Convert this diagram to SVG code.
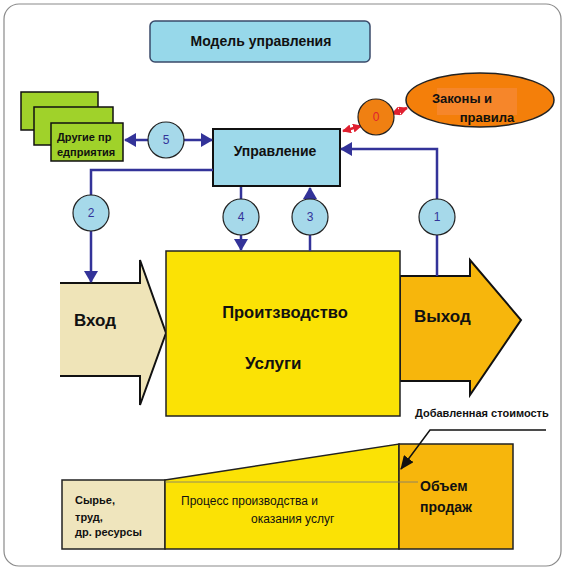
<svg xmlns="http://www.w3.org/2000/svg" width="567" height="571" viewBox="0 0 567 571">
<style>
.t{font-family:"Liberation Sans",Arial,sans-serif;font-weight:bold;fill:#111}
.n{font-family:"Liberation Sans",Arial,sans-serif;font-size:12px;fill:#333399;text-anchor:middle}
.c{fill:#a6d9ea;stroke:#222;stroke-width:1.2}
.con{fill:none;stroke:#333399;stroke-width:2.5}
.g{fill:#a0d22a;stroke:#111;stroke-width:1.5}
</style>
<defs>
<marker id="ah" markerUnits="userSpaceOnUse" markerWidth="12" markerHeight="14" refX="11" refY="7" orient="auto-start-reverse" viewBox="0 0 12 14">
<path d="M0,0 L12,7 L0,14 z" fill="#333399"/>
</marker>
<marker id="rh" markerUnits="userSpaceOnUse" markerWidth="9" markerHeight="9" refX="8" refY="4.5" orient="auto-start-reverse" viewBox="0 0 9 9">
<path d="M0,0 L9,4.5 L0,9 z" fill="#e02030"/>
</marker>
<marker id="bh" markerUnits="userSpaceOnUse" markerWidth="14" markerHeight="12" refX="13" refY="6" orient="auto" viewBox="0 0 14 12">
<path d="M0,0 L14,6 L0,12 z" fill="#111"/>
</marker>
</defs>
<rect x="0" y="0" width="567" height="571" fill="#fff"/>
<rect x="4" y="4" width="557" height="562" rx="15" fill="#fff" stroke="#8a8a8a" stroke-width="1.2"/>

<g id="title">
<rect x="150" y="21" width="220" height="41" rx="5" fill="#97d8ea" stroke="#3a4a6a" stroke-width="1.5"/>
<text class="t" x="261" y="46" font-size="14" text-anchor="middle">Модель управления</text>
</g>

<g id="vhod">
<polygon points="60,283 140,283 140,260 166,333 140,405 140,376 60,376" fill="#efe4b8"/>
<polyline points="60,283 140,283 140,260 166,333 140,405 140,376 60,376" fill="none" stroke="#111" stroke-width="2"/>
<text class="t" x="74" y="326" font-size="17">Вход</text>
</g>

<g id="vyhod">
<polygon points="400,276 470,276 470,260 521,320 470,395 470,381 400,381" fill="#f7b60c" stroke="#111" stroke-width="2"/>
<text class="t" x="414" y="322" font-size="17">Выход</text>
</g>

<g id="production">
<rect x="166" y="251" width="234" height="165" fill="#fbe205" stroke="#222" stroke-width="1.5"/>
<text class="t" x="285" y="318" font-size="16.5" text-anchor="middle">Проитзводство</text>
<text class="t" x="245" y="369" font-size="17">Услуги</text>
</g>

<g id="others">
<rect class="g" x="21" y="92" width="77" height="38"/>
<rect class="g" x="34" y="107" width="79" height="38"/>
<rect class="g" x="51" y="123" width="72" height="38"/>
<text class="t" x="57" y="141" font-size="11">Другие пр</text>
<text class="t" x="57" y="156" font-size="11">едприятия</text>
</g>

<g id="upravlenie">
<rect x="213" y="129" width="127" height="57" fill="#9dd9ea" stroke="#111" stroke-width="2"/>
<text class="t" x="275" y="156" font-size="14" text-anchor="middle">Управление</text>
</g>

<g id="zakony">
<ellipse cx="480" cy="100" rx="74" ry="27" fill="#f47f0a" stroke="#222" stroke-width="1.5"/>
<rect x="437" y="88" width="80" height="27" fill="#f6862a"/>
<text class="t" x="462" y="103" font-size="13" text-anchor="middle">Законы и</text>
<text class="t" x="487" y="122" font-size="13" text-anchor="middle">правила</text>
</g>

<g id="bottom">
<rect x="62" y="480" width="103" height="69" fill="#efe5bd" stroke="#222" stroke-width="1.5"/>
<polygon points="165,480 399,444 399,549 165,549" fill="#fbe205" stroke="#222" stroke-width="1.5"/>
<rect x="399" y="444" width="114" height="105" fill="#f7b60c" stroke="#222" stroke-width="1.5"/>
<line x1="165" y1="482" x2="418" y2="482" stroke="#777" stroke-width="0.8"/>
<text class="t" x="75" y="504" font-size="11">Сырье,</text>
<text class="t" x="75" y="521" font-size="11">труд,</text>
<text class="t" x="75" y="536" font-size="11">др. ресурсы</text>
<text x="181" y="505" font-family="Liberation Sans, Arial, sans-serif" font-size="12" fill="#111">Процесс производства и</text>
<text x="251" y="523" font-family="Liberation Sans, Arial, sans-serif" font-size="12" fill="#111">оказания услуг</text>
<text class="t" x="420" y="491" font-size="14">Объем</text>
<text class="t" x="420" y="512" font-size="14">продаж</text>
<text class="t" x="415" y="417" font-size="11">Добавленная стоимость</text>
</g>

<g id="connectors">
<line class="con" x1="125" y1="140" x2="212" y2="140" marker-start="url(#ah)" marker-end="url(#ah)"/>
<path class="con" d="M213,170 H91 V282" marker-end="url(#ah)"/>
<path class="con" d="M241,187 V250" marker-end="url(#ah)"/>
<path class="con" d="M310,251 V188" marker-end="url(#ah)"/>
<path class="con" d="M437,276 V149 H341" marker-end="url(#ah)"/>
<line x1="343" y1="131" x2="361" y2="126" stroke="#e02030" stroke-width="2.5" marker-start="url(#rh)" marker-end="url(#rh)"/>
<line x1="392" y1="114" x2="407" y2="108" stroke="#e02030" stroke-width="2.5" marker-start="url(#rh)" marker-end="url(#rh)"/>
<polyline points="546,430 430,430 401,469" fill="none" stroke="#111" stroke-width="1.5" marker-end="url(#bh)"/>
</g>

<g id="c5"><circle class="c" cx="166" cy="140" r="18"/><text class="n" x="166" y="144">5</text></g>
<g id="c2"><circle class="c" cx="91" cy="213" r="18"/><text class="n" x="91" y="217">2</text></g>
<g id="c4"><circle class="c" cx="241" cy="217" r="18"/><text class="n" x="241" y="221">4</text></g>
<g id="c3"><circle class="c" cx="310" cy="217" r="18"/><text class="n" x="310" y="221">3</text></g>
<g id="c1"><circle class="c" cx="437" cy="217" r="18"/><text class="n" x="437" y="221">1</text></g>
<g id="c0"><circle cx="376" cy="117" r="18" fill="#f08012" stroke="#222" stroke-width="1.2"/><text class="n" x="376" y="121" style="fill:#e02030">0</text></g>
</svg>
